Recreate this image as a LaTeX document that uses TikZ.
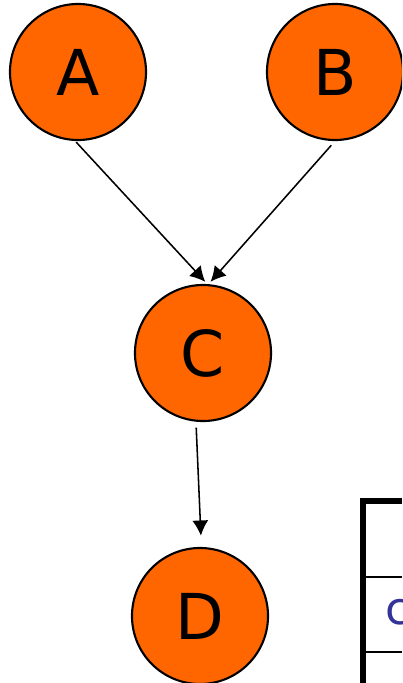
\documentclass[tikz,border=0pt]{standalone}
\usepackage{fontspec}
\setmainfont{DejaVu Sans}
\usepackage{tikz}
\usetikzlibrary{arrows.meta}

\definecolor{nodeorange}{HTML}{FF6600}
\definecolor{cellblue}{HTML}{333399}

\begin{document}
\begin{tikzpicture}[
  x=0.025cm, y=-0.025cm,
  var/.style={circle, draw, line width=1.5pt, fill=nodeorange,
    minimum size=3.4cm, inner sep=0pt, font=\fontsize{45}{45}\selectfont},
  edge/.style={->, line width=1.1pt},
  thickrule/.style={line width=4.3pt},
  thinrule/.style={line width=1.3pt},
  >={Latex[length=0.38cm, width=0.4cm]}
]
\clip (0,0) rectangle (402,683);
\useasboundingbox (0,0) rectangle (402,683);

% --- network ---
\node[var] (A) at (78,72)   {A};
\node[var] (B) at (335,72)  {B};
\node[var] (C) at (203,353) {C};
\node[var] (D) at (200,616) {D};

\draw[edge, shorten <=1, shorten >=2] ([xshift=-2]A.south) -- ([xshift=3]C.north);
\draw[edge, shorten <=4, shorten >=2] (B.south) -- ([xshift=4]C.north);
\draw[edge, shorten <=4, shorten >=8] ([xshift=-5]C.south) -- ([xshift=1]D.north);

% --- table, cut off at the edge ---
\draw[thickrule] (363,683) -- (363,501) -- (402,501);
\draw[thinrule] (363,577) -- (402,577);
\draw[thinrule] (363,652) -- (402,652);
\node[anchor=west, inner sep=0pt, text=cellblue,
  font=\fontsize{32}{32}\selectfont] (cell) at (385,612) {c};

\end{tikzpicture}
\end{document}
